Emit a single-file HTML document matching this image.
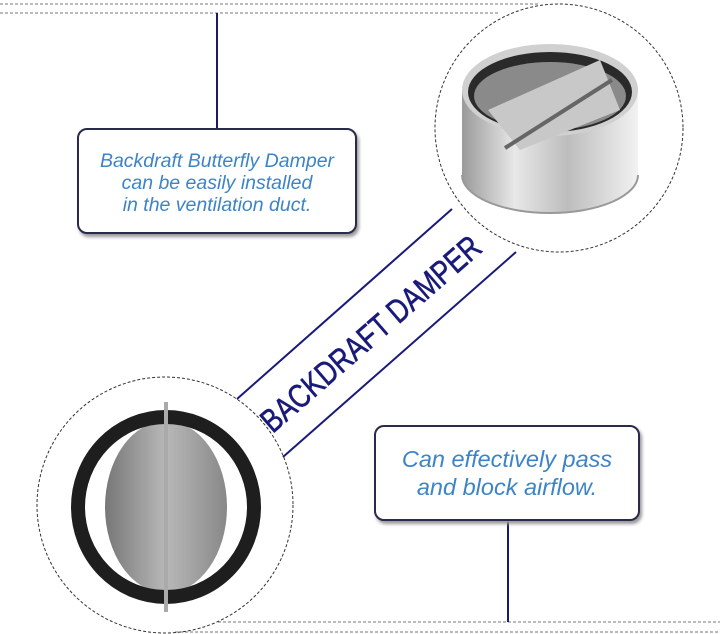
<!DOCTYPE html>
<html><head><meta charset="utf-8"><style>
html,body{margin:0;padding:0;background:#fff;width:720px;height:634px;overflow:hidden}
.box{position:absolute;border:2px solid #2a2a4a;border-radius:10px;background:#fff;box-shadow:2px 3px 3px #999;text-align:center;font-family:"Liberation Sans",sans-serif;font-style:italic;color:#3d84c6}
</style></head><body>
<svg width="720" height="634" style="position:absolute;left:0;top:0">
<defs>
<linearGradient id="m" x1="0" x2="1"><stop offset="0" stop-color="#9a9a9a"/><stop offset=".3" stop-color="#e8e8e8"/><stop offset=".6" stop-color="#bdbdbd"/><stop offset="1" stop-color="#f2f2f2"/></linearGradient>
<linearGradient id="d" x1="0" x2="1"><stop offset="0" stop-color="#777"/><stop offset=".5" stop-color="#b8b8b8"/><stop offset="1" stop-color="#888"/></linearGradient>
</defs>
<g stroke="#777" stroke-width="1" stroke-dasharray="3,2" fill="none">
<line x1="0" y1="4" x2="540" y2="4"/><line x1="0" y1="13" x2="500" y2="13"/>
<line x1="218" y1="622" x2="720" y2="622"/><line x1="175" y1="632" x2="720" y2="632"/>
</g>
<g stroke="#333" stroke-width="1" stroke-dasharray="3,2" fill="none">
<circle cx="559" cy="128" r="124"/>
<ellipse cx="165" cy="505" rx="128" ry="128"/>
</g>
<line x1="217" y1="13" x2="217" y2="130" stroke="#1a1a66" stroke-width="2"/>
<line x1="508" y1="520" x2="508" y2="622" stroke="#1a1a66" stroke-width="2"/>
<line x1="237" y1="399" x2="452" y2="209" stroke="#1a1a7a" stroke-width="2"/>
<line x1="283" y1="457" x2="516" y2="252" stroke="#1a1a7a" stroke-width="2"/>
<!-- top-right damper -->
<path d="M462 90 L462 175 A88 38 0 0 0 638 175 L638 90 Z" fill="url(#m)"/>
<ellipse cx="550" cy="90" rx="88" ry="46" fill="#d0d0d0"/>
<ellipse cx="550" cy="92" rx="82" ry="40" fill="#2a2a2a"/>
<ellipse cx="550" cy="96" rx="76" ry="34" fill="#8a8a8a"/>
<path d="M488 110 L600 60 L620 110 L520 150 Z" fill="#c8c8c8"/>
<path d="M505 148 L612 80" stroke="#666" stroke-width="4"/>
<path d="M462 175 A88 38 0 0 0 638 175" fill="none" stroke="#999" stroke-width="2"/>
<!-- bottom-left damper -->
<ellipse cx="166" cy="507" rx="61" ry="86" fill="url(#d)"/>
<ellipse cx="166" cy="507" rx="88" ry="90" fill="none" stroke="#1e1e1e" stroke-width="14"/>
<line x1="166" y1="402" x2="166" y2="612" stroke="#aaa" stroke-width="4"/>
</svg>
<div style="position:absolute;left:371px;top:334px;width:0;height:0">
<div style="position:absolute;left-175px;left:-175px;top:-22px;width:350px;text-align:center;transform:rotate(-41deg) scaleX(0.8);font-family:'Liberation Sans',sans-serif;font-size:33px;color:#1a1a7a;white-space:nowrap;line-height:44px;-webkit-text-stroke:0.6px #1a1a7a">BACKDRAFT DAMPER</div>
</div>
<div class="box" style="left:77px;top:128px;width:280px;height:106px;font-size:19.5px;line-height:22px;box-sizing:border-box;padding-top:20px">Backdraft Butterfly Damper<br>can be easily installed<br>in the ventilation duct.</div>
<div class="box" style="left:374px;top:425px;width:266px;height:96px;font-size:23.5px;line-height:28px;box-sizing:border-box;padding-top:18px">Can effectively pass<br>and block airflow.</div>
</body></html>
